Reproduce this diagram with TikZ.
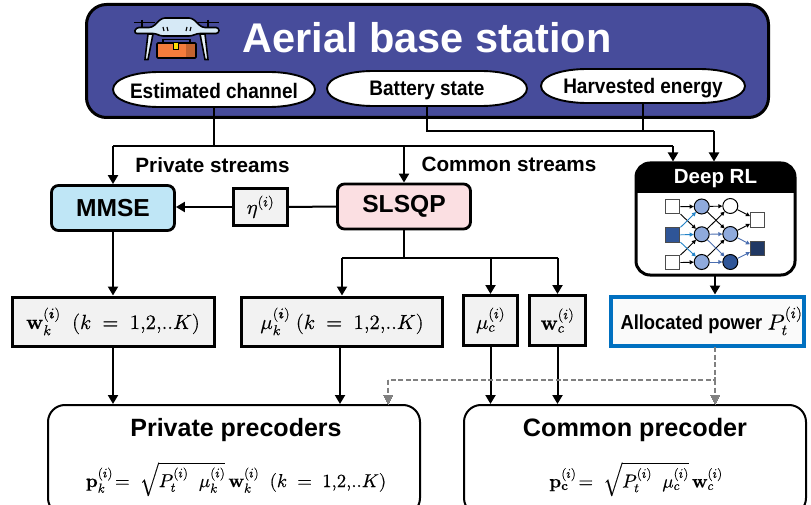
\documentclass[tikz,border=0pt]{standalone}
\usepackage{fontspec}
\usepackage{unicode-math}
\setmainfont{Liberation Sans}
\setmathfont{Latin Modern Math}[FakeBold=0.3]
\newfontfamily\narrowsf[FakeStretch=0.905]{Liberation Sans}
\usetikzlibrary{arrows.meta,calc}
\definecolor{abs}{HTML}{474C9B}
\definecolor{mmsec}{HTML}{BFE6F6}
\definecolor{slsqpc}{HTML}{FBDFE2}
\definecolor{boxg}{HTML}{F2F2F2}
\definecolor{allocb}{HTML}{0070C0}
\definecolor{nnlight}{HTML}{8FAADC}
\definecolor{nndark}{HTML}{2F5597}
\definecolor{nnout}{HTML}{203864}
\definecolor{nnblue}{HTML}{2283C8}
\definecolor{nnsteel}{HTML}{4A6EB0}
\definecolor{dashg}{HTML}{808080}
\definecolor{dronelight}{HTML}{D6E9F6}
\definecolor{droneor}{HTML}{F47C3C}
\newcommand{\fs}[1]{\fontsize{#1}{#1}\selectfont}
% oval outline: centre x, centre y, half width, half height
\newcommand{\ovalshape}[4]{%
  \draw[line width=1.9pt,fill=white] (#1-#3,#2)
    .. controls (#1-#3,#2-#4*0.62) and (#1-#3+22,#2-#4) .. (#1-#3+46,#2-#4)
    -- (#1+#3-46,#2-#4)
    .. controls (#1+#3-22,#2-#4) and (#1+#3,#2-#4*0.62) .. (#1+#3,#2)
    .. controls (#1+#3,#2+#4*0.62) and (#1+#3-22,#2+#4) .. (#1+#3-46,#2+#4)
    -- (#1-#3+46,#2+#4)
    .. controls (#1-#3+22,#2+#4) and (#1-#3,#2+#4*0.62) .. (#1-#3,#2) -- cycle;}
\tikzset{
  conn/.style={line width=2pt,-{Triangle[length=9pt,width=10pt]}},
  plain/.style={line width=2pt},
  dashconn/.style={line width=1.6pt,dashg,dash pattern=on 5pt off 2.5pt},
  algo/.style={draw=black,line width=2.8pt,rounded corners=7pt,inner sep=0pt,font=\bfseries\fs{24.6}},
  valbox/.style={draw=black,line width=3pt,fill=boxg,inner sep=0pt,font=\fs{20.5}},
  precbox/.style={draw=black,line width=2pt,rounded corners=17pt,fill=white,inner sep=0pt},
  oval/.style={inner sep=0pt,font=\narrowsf\bfseries\fs{21}},
  lbl/.style={font=\bfseries\fs{20.7},inner sep=0pt},
  nnsq/.style={draw=black!70,line width=1pt,minimum size=14.5pt,inner sep=0pt,fill=white},
  nnci/.style={circle,draw=black,line width=1pt,minimum size=15pt,inner sep=0pt,fill=nnlight},
  nnarrow/.style={line width=0.9pt,-{Triangle[length=4pt,width=4pt]}},
}
\begin{document}
\begin{tikzpicture}[x=1pt,y=-1pt]
\useasboundingbox (0,0) rectangle (811,505);
% top box
\node[draw=black,line width=3pt,fill=abs,rounded corners=20pt,minimum width=682pt,minimum height=113pt,inner sep=0pt] (top) at (427.5,61) {};
\node[text=white,font=\bfseries\fs{41.5},inner sep=0pt] (title) at (427,38) {Aerial base station};
% drone
\draw[line width=1.6pt,fill=droneor,rounded corners=1pt] (157,43) rectangle (196,58);
\fill[droneor!80!black] (186,44) rectangle (195,57);
\draw[line width=1.6pt] (163,43) -- (163,39.5) -- (190,39.5) -- (190,43);
\draw[line width=1pt,fill=yellow!80!orange] (173.5,43) rectangle (178.5,50);
\draw[line width=1.6pt,fill=dronelight!60!white] (148,34) -- (153,34) -- (148,59.5) -- (145,59.5) -- cycle;
\draw[line width=1.6pt,fill=dronelight!60!white] (205,34) -- (200,34) -- (205,59.5) -- (208,59.5) -- cycle;
\draw[line width=1.6pt] (134,22.5) -- (155,22.5) (196,22.5) -- (219,22.5) (142,20) -- (142,28) (208,20) -- (208,28);
\draw[line width=1.6pt,fill=dronelight,rounded corners=3pt] (136,27.5) -- (152,27.5) -- (162,18) -- (192,18) -- (202,27.5) -- (219,27.5) -- (219,33.5) -- (197,33.5) -- (192,36) -- (160,36) -- (156,33.5) -- (134,33.5) -- cycle;
\draw[line width=1.2pt] (163,27) -- (164,31) (167,27) -- (168,31) (187,27) -- (186,31) (191,27) -- (190,31);
% ovals
\ovalshape{214}{89.5}{101}{17.5}
\ovalshape{427}{88.5}{100}{17.5}
\ovalshape{643}{86}{102}{17}
\coordinate (est) at (214,107);
\coordinate (bat) at (427,106);
\coordinate (har) at (643,103);
\node[oval] (estt) at (214,90.5) {Estimated channel};
\node[oval] (batt) at (427,90.5) {Battery state};
\node[oval] (hart) at (643,88) {Harvested energy};
% stream labels
\node[lbl] (ps) at (212.5,165) {Private streams};
\node[lbl] (cs) at (509,164) {Common streams};
% algorithm boxes
\node[algo,fill=mmsec,minimum width=123pt,minimum height=45pt] (mmse) at (113,208) {MMSE};
\node[algo,fill=slsqpc,minimum width=133pt,minimum height=45pt] (slsqp) at (404,206.5) {SLSQP};
\node[valbox,line width=2.6pt,minimum width=54pt,minimum height=37pt] (eta) at (260.5,207) {$\eta^{(i)}$};
% Deep RL
\node[draw=black,line width=3pt,fill=white,rounded corners=14pt,minimum width=159pt,minimum height=112pt,inner sep=0pt] (rl) at (715.5,219) {};
\begin{scope}
\clip[rounded corners=14pt] (636,163) rectangle (795,275);
\fill[black] (636,163) rectangle (795,193);
\end{scope}
\node[text=white,font=\bfseries\fs{20.5},inner sep=0pt] (rlt) at (715.5,178.5) {Deep RL};
% network
\node[nnsq] (i1) at (672.7,206.7) {};
\node[nnsq,fill=nndark] (i2) at (672.7,235) {};
\node[nnsq] (i3) at (672.7,262.7) {};
\node[nnci] (a1) at (701.7,206.5) {};
\node[nnci] (a2) at (701.7,234.3) {};
\node[nnci] (a3) at (701.7,262) {};
\node[nnci,fill=white] (b1) at (730.3,206) {};
\node[nnci] (b2) at (730.3,234) {};
\node[nnci,fill=nndark] (b3) at (730.3,262) {};
\node[nnsq] (o1) at (757.7,220) {};
\node[nnsq,fill=nnout] (o2) at (757.7,248.3) {};
\foreach \s/\t in {i1/a1,i1/a2,i3/a2,i3/a3,a1/b1,a1/b2,a2/b1,a3/b2,b1/o1,b2/o1}
  \draw[nnarrow,black] (\s) -- (\t);
\foreach \s/\t in {i2/a1,i2/a2,i2/a3}
  \draw[nnarrow,nnblue] (\s) -- (\t);
\foreach \s/\t in {a2/b2,a2/b3,a3/b3,b2/o2,b3/o2}
  \draw[nnarrow,nnsteel] (\s) -- (\t);
% value boxes
\node[valbox,minimum width=202pt,minimum height=49pt] (wk) at (113,321.5) {$\symbf{w}_{k}^{(\symbfit{i})}\;\;(k\;=\;1{,}2{,}..K)$};
\node[valbox,minimum width=201pt,minimum height=49pt] (muk) at (342,321.5) {$\mu_{k}^{(\symbfit{i})}\;(k\;=\;1{,}2{,}..K)$};
\node[valbox,minimum width=54pt,minimum height=50pt] (muc) at (490.5,320.5) {$\mu_{c}^{(i)}$};
\node[valbox,minimum width=56pt,minimum height=50pt] (wc) at (557.5,320.5) {$\symbf{w}_{c}^{(i)}$};
\node[draw=allocb,line width=4pt,fill=white!96!gray,minimum width=193pt,minimum height=49pt,inner sep=0pt,font=\narrowsf\bfseries\fs{20.3}] (alloc) at (707,321) {\hspace*{9pt}Allocated power {\fs{22}$P_{t}^{(i)}$}};
% precoder boxes
\node[precbox,minimum width=372pt,minimum height=110pt] (priv) at (234,460) {};
\node[precbox,minimum width=342pt,minimum height=110pt] (comm) at (635,460) {};
\node[font=\bfseries\fs{25},inner sep=0pt] (privt) at (236,430) {Private precoders};
\node[font=\bfseries\fs{25.2},inner sep=0pt] (commt) at (635,430) {Common precoder};
\node[font=\fs{18.7},inner sep=0pt] (privf) at (236,479) {$\symbf{p}_{k}^{(i)}\!=\;\sqrt{P_{t}^{(i)}\;\;\mu_{k}^{(i)}}\,\symbf{w}_{k}^{(i)}\;\;(k\;=\;1{,}2{,}..K)$};
\node[font=\fs{18.7},inner sep=0pt] (commf) at (636,479) {$\symbf{p}_{\symbf{c}}^{(i)}\!=\;\sqrt{P_{t}^{(i)}\;\;\mu_{c}^{(i)}}\,\symbf{w}_{c}^{(i)}$};
% connectors
\coordinate (j1) at (214,146.5);
\coordinate (jl) at (113,146.5);
\coordinate (jr) at (404,146.5);
\coordinate (jrr) at (673,146.5);
\draw[plain] (est) -- (j1);
\draw[conn] (jl) -- (mmse.north);
\draw[plain] (jl) -- (jrr);
\draw[conn] (jr) -- (slsqp.north);
\draw[conn] (jrr) -- (rl.north -| jrr);
\coordinate (k1) at (427,131);
\coordinate (k2) at (643,131);
\coordinate (k3) at (714,131);
\draw[plain] (bat) -- (k1) -- (k3);
\draw[plain] (har) -- (k2);
\draw[conn] (k3) -- (rl.north -| k3);
\draw[plain] (slsqp.west) -- (eta.east);
\draw[conn] (eta.west) -- (mmse.east |- eta.west);
\draw[conn] (mmse.south) -- (wk.north);
\coordinate (s0) at (404,257.5);
\coordinate (s1) at (342,257.5);
\coordinate (s2) at (490.5,257.5);
\coordinate (s3) at (557.5,257.5);
\draw[plain] (slsqp.south) -- (s0);
\draw[plain] (s1) -- (s3);
\draw[conn] (s1) -- (muk.north);
\draw[conn] (s2) -- (muc.north);
\draw[conn] (s3) -- (wc.north);
\coordinate (a0) at (715,275);
\draw[conn] (a0) -- (alloc.north -| a0);
\draw[conn] (wk.south) -- (priv.north -| wk.south);
\coordinate (mk) at (340,346);
\draw[conn] (mk) -- (priv.north -| mk);
\draw[conn] (muc.south) -- (comm.north -| muc.south);
\draw[conn] (wc.south) -- (comm.north -| wc.south);
\coordinate (d0) at (715,347);
\coordinate (d1) at (715,380);
\coordinate (d2) at (388,380);
\draw[dashconn] (d0) -- (d1) -- (d2);
\draw[dashconn] (d2) -- ($(d2 |- priv.north)+(0,-7)$);
\draw[dashconn] (d1) -- ($(d1 |- comm.north)+(0,-7)$);
\draw[dashg,line width=0pt,fill=dashg] (d2 |- priv.north) -- ++(-4.5,-9) -- ++(9,0) -- cycle;
\draw[dashg,line width=0pt,fill=dashg] (d1 |- comm.north) -- ++(-4.5,-9) -- ++(9,0) -- cycle;
\end{tikzpicture}
\end{document}
